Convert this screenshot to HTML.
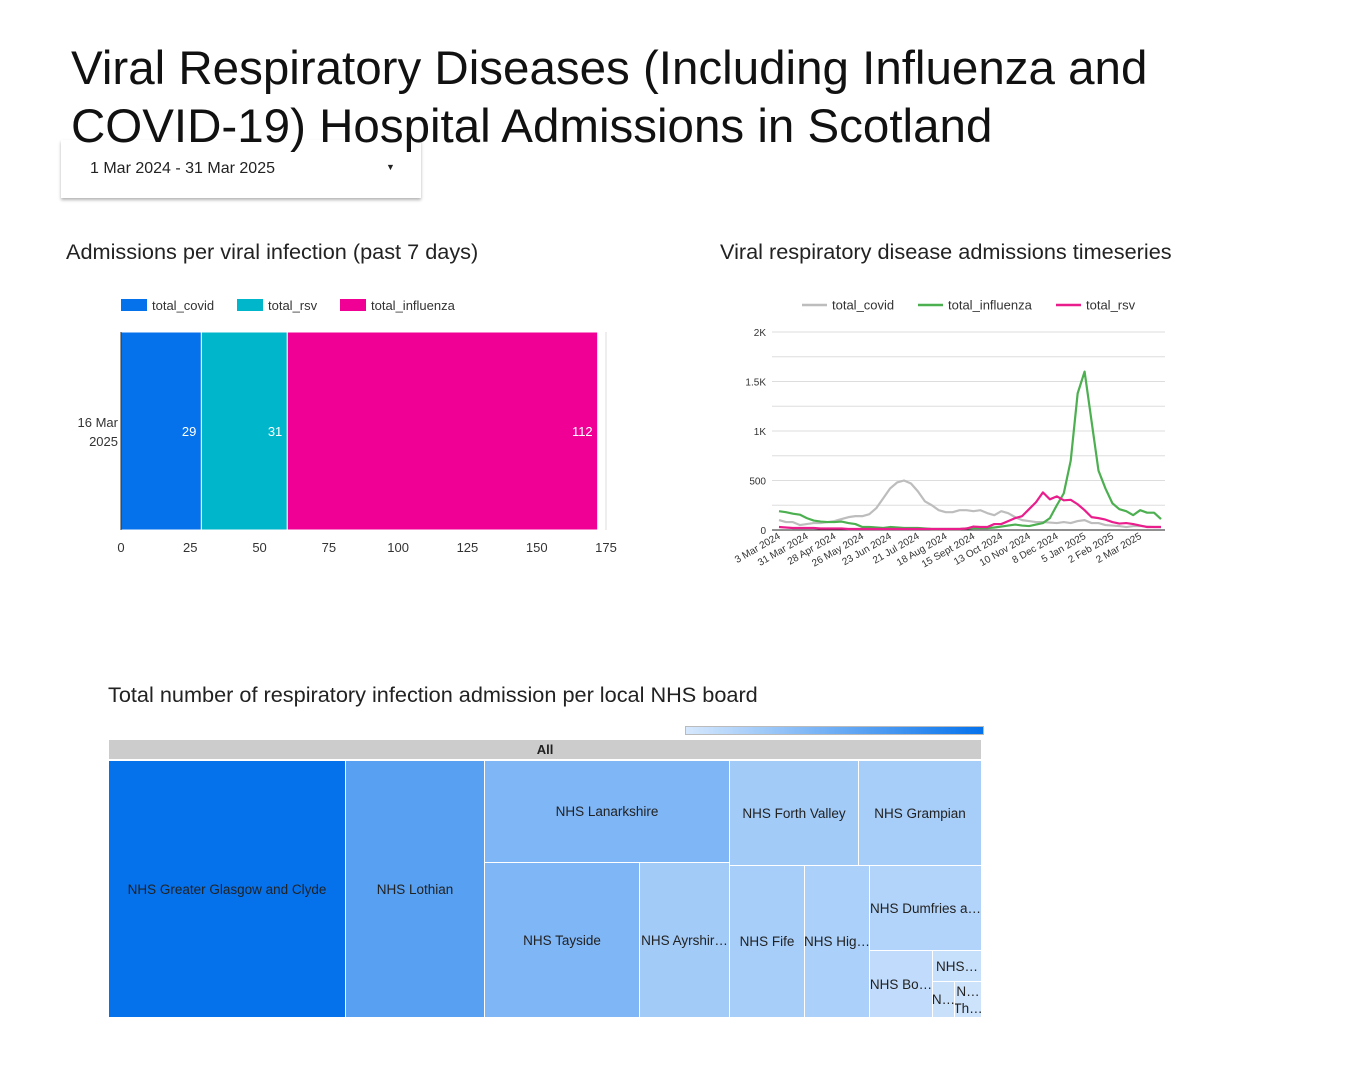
<!DOCTYPE html>
<html><head><meta charset="utf-8"><style>
body{margin:0;background:#fff;font-family:"Liberation Sans",sans-serif;color:#222;}
.abs{position:absolute;}
#root{position:relative;width:1349px;height:1080px;overflow:hidden;}
.tm{position:absolute;box-sizing:border-box;border:1px solid #fff;display:flex;align-items:center;justify-content:center;font-size:13.5px;color:#222;white-space:nowrap;overflow:hidden;}
</style></head><body>
<div id="root">
<div class="abs" style="left:71px;top:40px;font-size:47.5px;line-height:58px;color:#111;">Viral Respiratory Diseases (Including Influenza and<br>COVID-19) Hospital Admissions in Scotland</div>
<div class="abs" style="left:61px;top:140px;width:360px;height:58px;box-shadow:0 2px 3px rgba(0,0,0,0.3);background:transparent;">
<span class="abs" style="left:29px;top:20px;font-size:16px;">1 Mar 2024 - 31 Mar 2025</span>
<span class="abs" style="left:325px;top:22px;font-size:9px;">▼</span></div>
<div class="abs" style="left:66px;top:239px;font-size:21.7px;">Admissions per viral infection (past 7 days)</div>
<div class="abs" style="left:720px;top:239px;font-size:21.7px;">Viral respiratory disease admissions timeseries</div>
<div class="abs" style="left:108px;top:682px;font-size:21.7px;">Total number of respiratory infection admission per local NHS board</div>
<svg class="abs" style="left:0;top:0" width="1349" height="1080" id="svg"></svg>
<div class="abs" style="left:685px;top:726px;width:297px;height:7px;border:1px solid #bbb;background:linear-gradient(to right,#d6e8fd,#0572ec);"></div>
<div class="abs" style="left:108px;top:739px;width:874px;height:280px;">
<div class="tm" style="left:0;top:0;width:874px;height:21px;background:#cccccc;font-weight:bold;font-size:13px;">All</div>
<div class="tm" style="left:0;top:21px;width:238px;height:258px;background:#0572ec;">NHS Greater Glasgow and Clyde</div>
<div class="tm" style="left:237px;top:21px;width:140px;height:258px;background:#57a0f2;">NHS Lothian</div>
<div class="tm" style="left:376px;top:21px;width:246px;height:103px;background:#7fb6f6;">NHS Lanarkshire</div>
<div class="tm" style="left:376px;top:123px;width:156px;height:156px;background:#7fb6f6;">NHS Tayside</div>
<div class="tm" style="left:531px;top:123px;width:91px;height:156px;background:#a3cbf8;">NHS Ayrshir…</div>
<div class="tm" style="left:621px;top:21px;width:130px;height:106px;background:#a3cbf8;">NHS Forth Valley</div>
<div class="tm" style="left:750px;top:21px;width:124px;height:106px;background:#a7cdf9;">NHS Grampian</div>
<div class="tm" style="left:621px;top:126px;width:76px;height:153px;background:#a7cdf9;">NHS Fife</div>
<div class="tm" style="left:696px;top:126px;width:66px;height:153px;background:#abd0f9;">NHS Hig…</div>
<div class="tm" style="left:761px;top:126px;width:113px;height:86px;background:#b3d4fa;">NHS Dumfries a…</div>
<div class="tm" style="left:761px;top:211px;width:64px;height:68px;background:#c0dbfb;">NHS Bo…</div>
<div class="tm" style="left:824px;top:211px;width:50px;height:32px;background:#c6dffb;">NHS…</div>
<div class="tm" style="left:824px;top:242px;width:23px;height:37px;background:#c9e0fb;">N…</div>
<div class="tm" style="left:846px;top:242px;width:28px;height:37px;background:#cde3fc;line-height:17px;white-space:normal;text-align:center;">N…<br>Th…</div>
</div>
</div>
<script>
const barCategories=['total_covid','total_rsv','total_influenza'];
const barValues=[29,31,112];
const barColors=['#0572ec','#00b6cb','#f10096'];
const barTicks=[0,25,50,75,100,125,150,175];
const lineDates=['3 Mar 2024','31 Mar 2024','28 Apr 2024','26 May 2024','23 Jun 2024','21 Jul 2024','18 Aug 2024','15 Sept 2024','13 Oct 2024','10 Nov 2024','8 Dec 2024','5 Jan 2025','2 Feb 2025','2 Mar 2025'];
const covidSeries=[100,80,80,50,60,70,70,80,90,110,130,140,140,160,220,320,420,480,500,470,390,290,250,200,180,180,200,200,190,200,170,150,190,170,130,100,90,80,80,75,70,80,70,90,100,70,70,50,45,40,30,40,40,35,30,30];
const influenzaSeries=[190,180,165,155,120,95,85,80,80,85,70,60,30,30,25,20,30,25,20,20,20,15,10,10,10,10,10,15,20,20,20,25,35,45,55,45,40,55,70,120,250,370,700,1380,1600,1100,600,420,270,210,190,150,200,175,175,110];
const rsvSeries=[30,25,20,20,20,20,15,15,15,15,10,10,10,10,10,10,10,10,10,10,10,10,10,10,10,10,10,15,35,30,30,60,60,90,120,140,210,280,380,310,340,300,305,260,200,130,120,105,80,65,70,60,45,30,30,30];
const lineTicks=[0,500,1000,1500,2000];
const lineTickLabels=['0','500','1K','1.5K','2K'];
const svg=document.getElementById('svg');
const NS='http://www.w3.org/2000/svg';
function mk(t,a,p){const e=document.createElementNS(NS,t);for(const k in a)e.setAttribute(k,a[k]);(p||svg).appendChild(e);return e;}
const bx=v=>121+v*(606-121)/175;
barCategories.forEach((c,i)=>{
 const lx=[121,237,340][i];
 const r=mk('rect',{x:lx,y:299,width:26,height:12,fill:barColors[i]});
 
 
 const t=mk('text',{x:lx+31,y:310,'font-size':13,fill:'#333'});t.textContent=c;
 
 
});
mk('line',{x1:606,y1:332,x2:606,y2:530,stroke:'#ddd'});
let acc=0;
barValues.forEach((v,i)=>{
 const b=mk('rect',{x:bx(acc),y:332,width:bx(acc+v)-bx(acc),height:198,fill:barColors[i],stroke:'#fff','stroke-width':1});
 
 
 acc+=v;
 const t=mk('text',{x:bx(acc)-5,y:436,'font-size':13,fill:'#fff','text-anchor':'end'});t.textContent=v;
 
 
});
mk('line',{x1:121,y1:332,x2:121,y2:530,stroke:'#333'});
barTicks.forEach(v=>{const t=mk('text',{x:bx(v),y:552,'font-size':13,fill:'#333','text-anchor':'middle'});t.textContent=v;
 
 });
[['16 Mar',427],['2025',446]].forEach(([s,y])=>{const t=mk('text',{x:118,y:y,'font-size':13,fill:'#333','text-anchor':'end'});t.textContent=s;
 
 });
const lx0=779,lx1=1161,ly0=530,ly1=332;
const lxs=i=>lx0+i*(lx1-lx0)/(covidSeries.length-1);
const lys=v=>ly0-v*(ly0-ly1)/2000;
for(let v=250;v<=2000;v+=250){mk('line',{x1:772,y1:lys(v),x2:1165,y2:lys(v),stroke:'#ddd'});}
lineTicks.forEach((v,i)=>{const t=mk('text',{x:766,y:lys(v)+4,'font-size':10,fill:'#333','text-anchor':'end'});t.textContent=lineTickLabels[i];
 
 });
mk('line',{x1:772,y1:ly0,x2:1165,y2:ly0,stroke:'#222'});
lineDates.forEach((d,i)=>{const x=lxs(i*4);const t=mk('text',{x:x+2,y:538,'font-size':10,fill:'#333','text-anchor':'end',transform:`rotate(-30 ${x+2} 538)`});t.textContent=d;
 
 });
const series=[['total_covid',covidSeries,'#bdbdbd',802],['total_influenza',influenzaSeries,'#4caf50',918],['total_rsv',rsvSeries,'#e91e8c',1056]];
series.forEach(([n,arr,col,lgx])=>{
 const p=mk('polyline',{points:arr.map((v,i)=>lxs(i)+','+lys(v)).join(' '),fill:'none',stroke:col,'stroke-width':2.2,'stroke-linejoin':'round'});
 
 
 const l=mk('line',{x1:lgx,y1:305,x2:lgx+25,y2:305,stroke:col,'stroke-width':2.5});
 
 
 const t=mk('text',{x:lgx+30,y:309.5,'font-size':13,fill:'#333'});t.textContent=n;
 
 
});
</script>
</body></html>
